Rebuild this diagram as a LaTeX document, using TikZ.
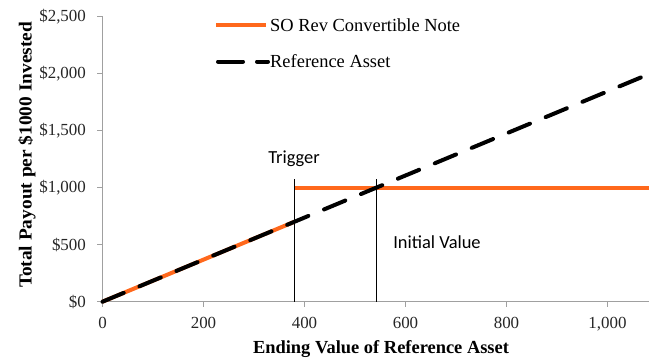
\documentclass[tikz,border=0pt]{standalone}
\usepackage{fontspec}
\setmainfont{Liberation Serif}
\newfontfamily\calfont{Carlito}
\definecolor{noteorange}{RGB}{255,104,28}
\definecolor{axisgray}{RGB}{160,160,160}
\begin{document}
\begin{tikzpicture}[x=1bp,y=1bp,
  axisline/.style={draw=axisgray,line width=1.2bp},
  ticklab/.style={font=\fontsize{17}{18}\selectfont,text=black!85,inner sep=0pt},
  axtitle/.style={font=\fontsize{18.5}{20}\selectfont\bfseries,inner sep=0pt},
  notecurve/.style={draw=noteorange,line width=4bp},
  refcurve/.style={draw=black,line width=4bp,line cap=round,dash pattern=on 23bp off 17bp},
  markline/.style={draw=black,line width=1.2bp},
  calib/.style={font=\calfont\fontsize{18.5}{20}\selectfont,inner sep=0pt},
  leglab/.style={font=\fontsize{18.5}{20}\selectfont,inner sep=0pt,anchor=west}]
\useasboundingbox (0,0) rectangle (649,360);
\begin{scope}[shift={(102.5,58.3)},x=0.505bp,y=0.1142bp]
  % axes
  \coordinate (O) at (0,0);
  \coordinate (Ytop) at (0,2500);
  \coordinate (Xend) at (1082,0);
  \draw[axisline] (Ytop) -- (O) -- (Xend);
  \foreach \v/\t in {0/{\$0},500/{\$500},1000/{\$1,000},1500/{\$1,500},2000/{\$2,000},2500/{\$2,500}}{
    \draw[axisline] (0,\v) -- ++(-6bp,0) node[ticklab,anchor=east,xshift=-10bp] (yl\v) {\t};
  }
  \foreach \v/\t in {0/0,200/200,400/400,600/600,800/800,1000/{1,000}}{
    \draw[axisline] (\v,0) -- ++(0,-5bp) node[ticklab,anchor=north,yshift=-10bp] (xl\v) {\t};
  }
  % data
  \coordinate (T0) at (380,0);
  \coordinate (T1) at (380,1075);
  \coordinate (I0) at (543,0);
  \coordinate (I1) at (543,1075);
  \coordinate (Tk) at (380,700);
  \coordinate (Tn) at (380,1000);
  \coordinate (Nend) at (1082,1000);
  \coordinate (Rend) at (1082,1993);
  \draw[notecurve] (O) -- (Tk);
  \draw[notecurve] (Tn) -- (Nend);
  \draw[refcurve] (O) -- (Rend);
  \draw[markline] (T0) -- (T1);
  \draw[markline] (I0) -- (I1);
\end{scope}
\node[calib] (trig) at (294,201) {Trigger};
\node[calib] (init) at (437,118) {Initial Value};
\node[axtitle] (xt) at (381,11) {Ending Value of Reference Asset};
\node[axtitle,rotate=90] (yt) at (27,205) {\scalebox{1.05}[1]{Total Payout per \$1000 Invested}};
% legend
\coordinate (L1a) at (216,335);
\coordinate (L1b) at (266,335);
\draw[notecurve] (L1a) -- (L1b);
\node[leglab] (leg1) at (270,335) {SO Rev Convertible Note};
\coordinate (L2a) at (218,298.5);
\coordinate (L2b) at (268,298.5);
\draw[refcurve,dash pattern=on 25bp off 14bp] (L2a) -- (L2b);
\node[leglab] (leg2) at (270,298.5) {Reference Asset};
\end{tikzpicture}
\end{document}
